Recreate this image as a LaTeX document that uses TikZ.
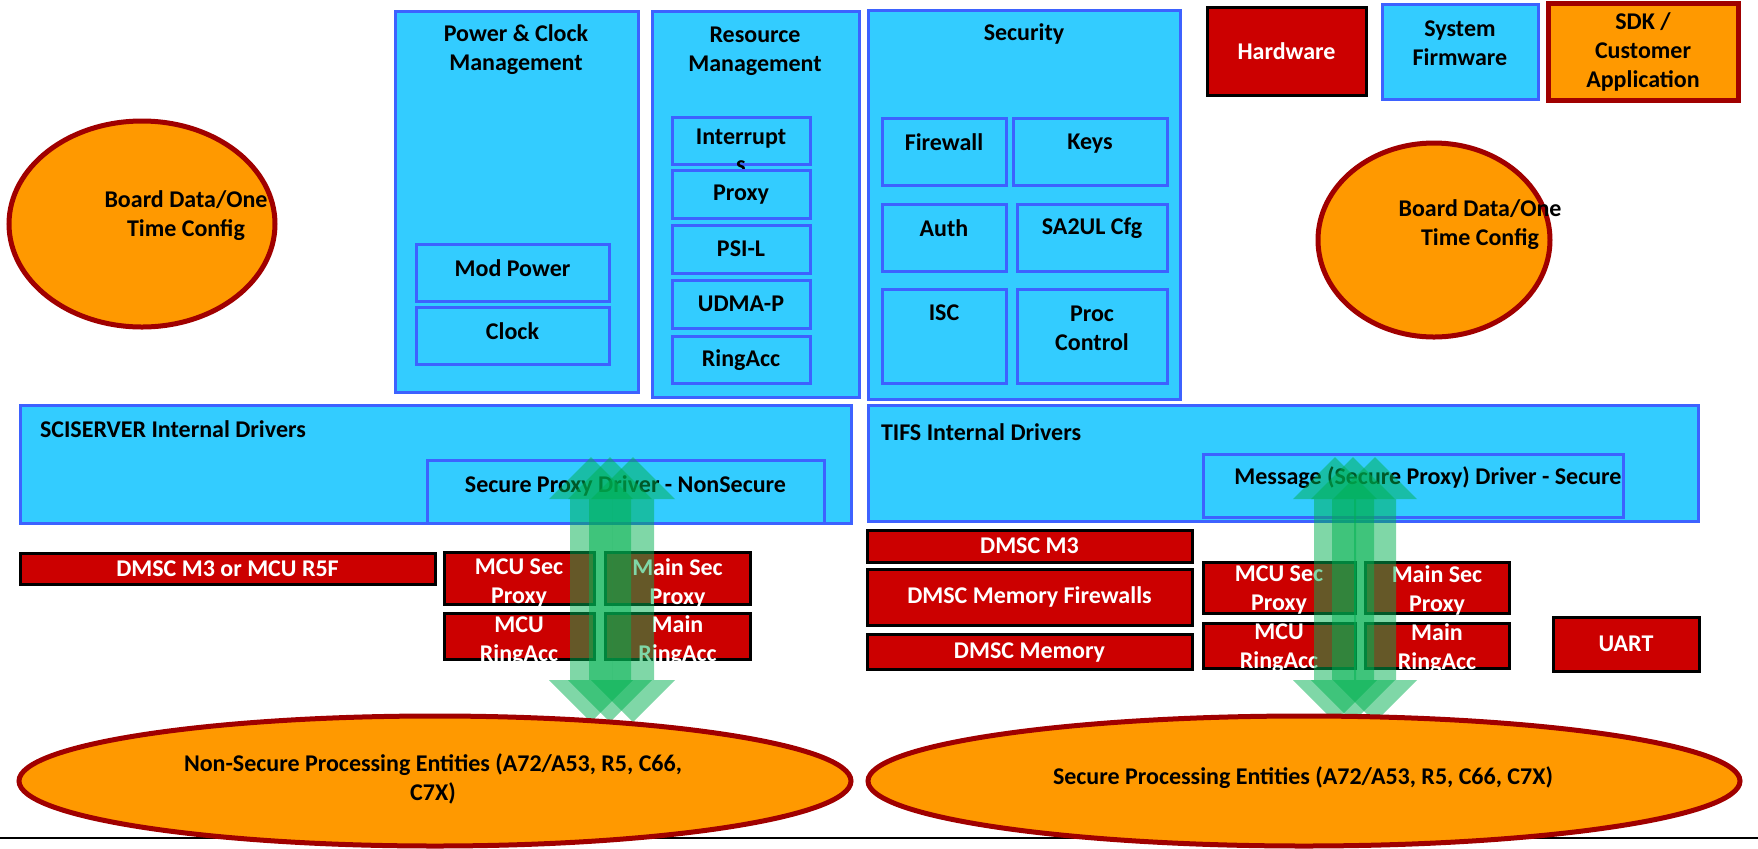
\documentclass[tikz,border=0pt]{standalone}
\usepackage{fontspec}
\setmainfont{Carlito}
\usetikzlibrary{shapes.geometric}
\definecolor{cyanf}{HTML}{33CCFF}
\definecolor{blueb}{HTML}{3D62FF}
\definecolor{redf}{HTML}{CC0000}
\definecolor{orangef}{HTML}{FF9900}
\definecolor{ellb}{HTML}{A00000}
\definecolor{arrowg}{HTML}{00B050}
% \bx[text dy]{style}{name}{x1}{y1}{x2}{y2}{text}
\newcommand{\bx}[8][0]{\node[#2, minimum width={(#6-#4)*0.5pt}, minimum height={(#7-#5)*0.5pt}] (#3) at ({(#4+#6)/2},{(#5+#7)/2}) {};
  \node[#2, draw=none, fill=none] (#3t) at ({(#4+#6)/2},{(#5+#7)/2+#1}) {#8};}
\newcommand{\el}[6]{\node[ell, minimum width={#5*1pt}, minimum height={#6*1pt}] (#2) at (#3,#4) {#1};}
\newcommand{\garrow}[1]{\fill[arrowg, opacity=0.5] (#1-21,499) -- (#1-42,499) -- (#1,457) -- (#1+42,499) -- (#1+21,499) -- (#1+21,680) -- (#1+42,680) -- (#1,722) -- (#1-42,680) -- (#1-21,680) -- cycle;}
\begin{document}
\begin{tikzpicture}[x=0.5pt,y=-0.5pt,
  every node/.style={font=\bfseries\fontsize{12}{14.5}\selectfont, inner sep=0pt, outer sep=0pt, align=center},
  blue/.style={draw=blueb, fill=cyanf, line width=1.5pt},
  redb/.style={draw=black, fill=redf, line width=1.5pt, text=white},
  ell/.style={ellipse, draw=ellb, fill=orangef, line width=2.5pt},
  sdk/.style={draw=ellb, fill=orangef, line width=2.5pt}]
\useasboundingbox (0,0) rectangle (1758,848);
% Power & Clock
\bx{blue}{pcm}{395}{11}{638}{392}{}
\node (pcmt) at (516,50) {Power \& Clock\\Management};
\bx[-4]{blue}{modp}{416}{244}{609}{301}{Mod Power}
\bx[-4]{blue}{clk}{416}{307}{609}{364}{Clock}
% Resource management
\bx{blue}{rm}{652}{11}{859}{397}{}
\node (rmt) at (755,51) {Resource\\Management};
\bx{blue}{intr}{672}{117}{810}{164}{}
\node (intrt) at (741,139) {Interrupt};
\node (intrs) at (741,167) {s};
\bx[1]{blue}{prx}{672}{170}{810}{218}{Proxy}
\bx{blue}{psil}{672}{225}{810}{273}{PSI-L}
\bx{blue}{udma}{672}{280}{810}{328}{UDMA-P}
\bx[1]{blue}{ring}{672}{336}{810}{383}{RingAcc}
% Security
\bx{blue}{sec}{868}{10}{1180}{399}{}
\node (sect) at (1024,34) {Security};
\bx{blue}{fw}{882}{118}{1006}{185}{}
\node (fwt) at (944,142) {Firewall};
\bx{blue}{keys}{1013}{118}{1167}{185}{}
\node (keyst) at (1090,144) {Keys};
\bx{blue}{auth}{882}{204}{1006}{271}{}
\node (autht) at (944,228) {Auth};
\bx{blue}{sa2}{1017}{204}{1167}{271}{}
\node (sa2t) at (1092,228) {SA2UL Cfg};
\bx{blue}{isc}{882}{289}{1006}{383}{}
\node (isct) at (944,313) {ISC};
\bx{blue}{proc}{1017}{289}{1167}{383}{}
\node (proct) at (1092,328) {Proc\\Control};
% legend
\bx{redb}{hw}{1207}{7}{1366}{95}{Hardware}
\bx{blue}{sf}{1382}{4}{1538}{99}{}
\node (sft) at (1460,43) {System\\Firmware};
\bx{sdk}{app}{1548}{3}{1738}{100}{}
\node (appt) at (1643,52) {SDK /\\Customer\\Application};
% Board data ellipses
\el{}{bdl}{142}{224}{133}{103}
\node (bdlt) at (186,216) {Board Data/One\\Time Config};
\el{}{bdr}{1434}{240}{116}{97}
\node (bdrt) at (1480,225) {Board Data/One\\Time Config};
% Drivers
\bx{blue}{sci}{20}{405}{851}{523}{}
\node[anchor=west] (scit) at (40,429) {SCISERVER Internal Drivers};
\bx[-6]{blue}{spd}{427}{460}{824}{523}{Secure Proxy Driver - NonSecure}
\bx{blue}{tifs}{868}{405}{1698}{521}{}
\node[anchor=west] (tifst) at (881,432) {TIFS Internal Drivers};
\bx{blue}{msg}{1203}{454}{1623}{517}{}
\node (msgt) at (1428,478) {Message (Secure Proxy) Driver - Secure};
% Hardware blocks
\bx{redb}{dmscl}{20}{553}{435}{584}{DMSC M3 or MCU R5F}
\bx[5]{redb}{mcusp}{444}{552}{594}{604}{MCU Sec\\Proxy}
\bx[5]{redb}{mainsp}{605}{552}{750}{604}{Main Sec\\Proxy}
\bx[5]{redb}{mcura}{444}{613}{594}{659}{MCU\\RingAcc}
\bx[5]{redb}{mainra}{605}{613}{750}{659}{Main\\RingAcc}
\bx{redb}{dmscm3}{867}{530}{1192}{562}{DMSC M3}
\bx{redb}{dmscfw}{867}{569}{1192}{625}{DMSC Memory Firewalls}
\bx[1]{redb}{dmscmem}{867}{634}{1192}{669}{DMSC Memory}
\bx[3]{redb}{rmcusp}{1203}{562}{1355}{613}{MCU Sec\\Proxy}
\bx[3]{redb}{rmainsp}{1365}{562}{1509}{613}{Main Sec\\Proxy}
\bx[3]{redb}{rmcura}{1203}{623}{1355}{668}{MCU\\RingAcc}
\bx[3]{redb}{rmainra}{1365}{623}{1509}{668}{Main\\RingAcc}
\bx{redb}{uart}{1553}{617}{1699}{671}{UART}
% green double arrows
\garrow{591}
\garrow{610}
\garrow{633}
\garrow{1335}
\garrow{1353}
\garrow{1375}
% base line
\coordinate (bl) at (0,838);
\coordinate (br) at (1758,838);
\draw[line width=1pt] (bl) -- (br);
% processing entities
\el{}{nspe}{435}{781}{416}{65}
\node (nspet) at (433,779) {Non-Secure Processing Entities (A72/A53, R5, C66,\\C7X)};
\el{}{spe}{1304}{781}{436}{65}
\node (spet) at (1303,778) {Secure Processing Entities (A72/A53, R5, C66, C7X)};
\end{tikzpicture}
\end{document}
